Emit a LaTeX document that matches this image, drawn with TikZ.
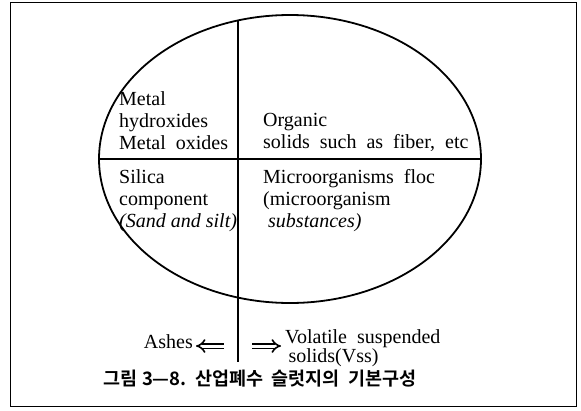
\documentclass[tikz,border=0pt]{standalone}
\usepackage{fontspec}
\setmainfont{Liberation Serif}
\newfontfamily\kofont{Noto Sans CJK KR Bold}
\usetikzlibrary{shapes.geometric,arrows.meta}
\newcommand{\txt}{\fontsize{20}{22}\selectfont}
\newcommand{\txttight}{\fontsize{20}{17}\selectfont}

\begin{document}
\begin{tikzpicture}[x=1pt,y=-1pt,
		lbl/.style={anchor=north west,inner sep=0pt,align=left,font=\txt},
		dbl/.style={double,double distance=3pt,line width=1.6pt,-{Implies}}]
			\useasboundingbox (0,0) rectangle (581,410);
			\draw[thin] (10,2) rectangle (576,406);
			% sludge
			\node[draw,ellipse,line width=1.8pt,minimum width=382,minimum height=288,inner sep=0pt] (blob) at (290,159) {};
			\draw[line width=1.4pt] (blob.west) -- (blob.east);
			\coordinate (top) at (238,20.4);
			\coordinate (foot) at (238,362);
			\draw[line width=1.3pt] (top) -- (foot);
			% inorganic part
			\node[lbl] (metal) at (119,91.3) {Metal\\hydroxides\\Metal\ \ oxides};
			\node[lbl] (silica) at (119,169.3) {Silica\\component\\\textit{(Sand and silt)}};
			% organic part
			\node[lbl] (organic) at (263,113.5) {Organic\\solids\ \ such\ \ as\ \ fiber,\ \ etc};
			\node[lbl] (micro) at (263,169.3) {Microorganisms\ \ floc\\(microorganism\\\ \textit{substances)}};
			% ashes and vss
			\node[anchor=base east,inner sep=0pt,font=\txt] (ash) at (193,348) {Ashes};
			\coordinate (la) at (224,346);
			\coordinate (lb) at (196,346);
			\draw[dbl] (la) -- (lb);
			\coordinate (ra) at (252,346);
			\coordinate (rb) at (281,346);
			\draw[dbl] (ra) -- (rb);
			\node[lbl,font=\txttight] (vss) at (285,329.3) {Volatile\ \ suspended\\\,solids(Vss)};
			% caption
			\node[inner sep=0pt,font=\kofont\fontsize{18.5}{20}\selectfont] (cap) at (260,379) {그림 3—8.\ \ 산업폐수\ \ 슬럿지의\ \ 기본구성};
		\end{tikzpicture}
\end{document}
